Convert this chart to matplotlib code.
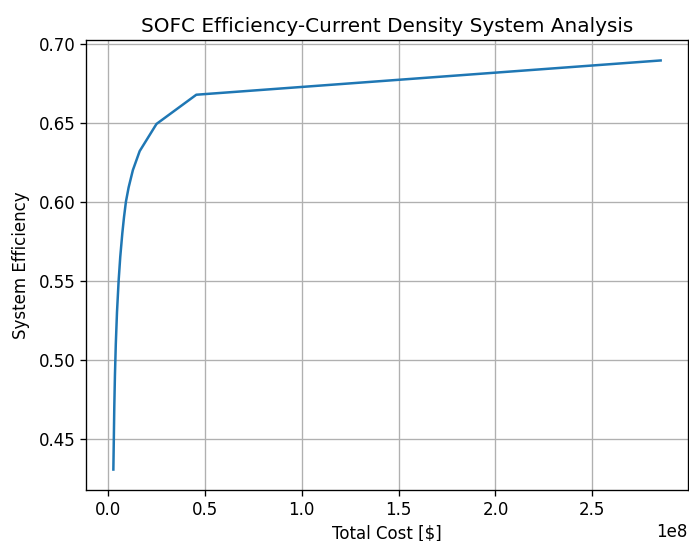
import matplotlib
matplotlib.use("Agg")
import matplotlib.pyplot as plt

total_cost = [0.0293e8, 0.0317e8, 0.0341e8, 0.0374e8, 0.0419e8, 0.0480e8, 0.0565e8,
              0.0648e8, 0.0755e8, 0.0840e8, 0.0941e8, 0.1080e8, 0.1300e8, 0.1650e8,
              0.2517e8, 0.4571e8, 2.852e8]
efficiency = [0.4304, 0.4500, 0.4700, 0.4900, 0.5100, 0.5300, 0.5500,
              0.5650, 0.5800, 0.5900, 0.6000, 0.6090, 0.6200, 0.6320,
              0.6492, 0.6677, 0.6894]

fig = plt.figure(figsize=(6.89, 5.41), dpi=100)
ax = fig.add_axes([86/689, 51/541, 602/689, 450/541])
ax.plot(total_cost, efficiency, color="#1f77b4", linewidth=1.8)
ax.grid(True, linewidth=0.96)
for s in ax.spines.values():
    s.set_linewidth(0.96)
ax.set_xlabel("Total Cost [$]", fontsize=12)
ax.set_ylabel("System Efficiency", fontsize=12, labelpad=6)
ax.set_title("SOFC Efficiency-Current Density System Analysis", fontsize=14.4)
ax.tick_params(labelsize=12, width=0.96, length=4.2)
ax.xaxis.get_offset_text().set_fontsize(12)
fig.savefig("out.png", dpi=100)
